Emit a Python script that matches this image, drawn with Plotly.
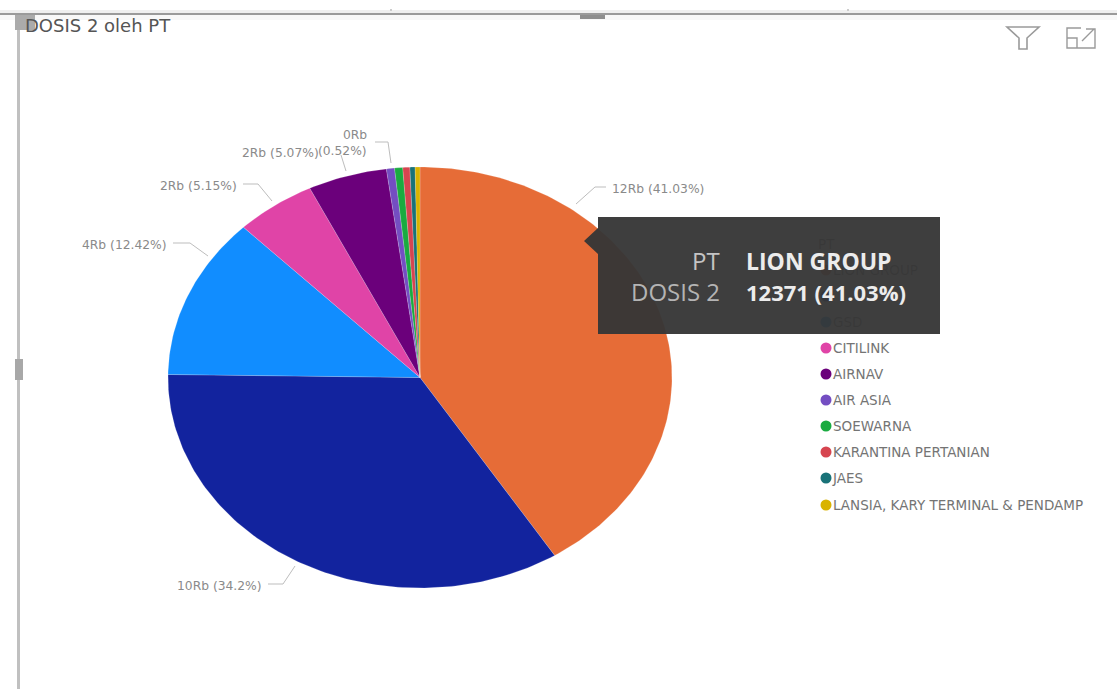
import numpy as np
import plotly.graph_objects as go

# Vaccination dose 2 recipients per company
categories = ["LION GROUP", "", "GSD", "CITILINK", "AIRNAV", "AIR ASIA", "SOEWARNA",
              "KARANTINA PERTANIAN", "JAES", "LANSIA, KARY TERMINAL & PENDAMP"]
values = [12371, 10312, 3745, 1553, 1529, 157, 157, 136, 100, 93]
colors = ["#E66C37", "#12239E", "#118DFF", "#E044A7", "#6B007B", "#744EC2", "#1AAB40",
          "#D64550", "#197278", "#D9B300"]

TOTAL = sum(values)
CX, CY, RX, RY = 420, 377.5, 252, 210.5
FONT = "Open Sans, sans-serif"
WIDE_FONT = "DejaVu Sans, sans-serif"


def short_label(v):
    return f"{round(v / 1000)}Rb"


def pct(v):
    p = f"{100 * v / TOTAL:.2f}".rstrip("0").rstrip(".")
    return f"{p}%"


fig = go.Figure()

# Elliptical pie: wedges clockwise from twelve o'clock
start = 0.0
for value, color, name in zip(values, colors, categories):
    stop = start + value / TOTAL
    theta = 2 * np.pi * np.linspace(start, stop, max(4, int(value / TOTAL * 360)))
    fig.add_trace(go.Scatter(
        x=np.r_[CX, CX + RX * np.sin(theta), CX],
        y=np.r_[CY, CY - RY * np.cos(theta), CY],
        mode="lines", fill="toself", fillcolor=color,
        line=dict(color="rgba(255,255,255,0.35)", width=0.5),
        hoverinfo="skip", showlegend=False, name=name))
    start = stop

# Legend column, drawn as a trace so the tooltip box can sit above it
legend_rows = [270, 296, 322, 348, 374, 400, 426, 452, 478, 505]
legend_font = dict(family=WIDE_FONT, size=13.5, color="#747474")
fig.add_trace(go.Scatter(
    x=[826] * len(categories), y=legend_rows, mode="markers",
    marker=dict(size=11, color=colors), hoverinfo="skip", showlegend=False))
fig.add_trace(go.Scatter(
    x=[833] * len(categories), y=[r + 2 for r in legend_rows], mode="text", text=categories,
    textposition="middle right", textfont=legend_font,
    hoverinfo="skip", showlegend=False))
fig.add_trace(go.Scatter(
    x=[818], y=[246], mode="text", text=["PT"], textposition="middle right",
    textfont=legend_font, hoverinfo="skip", showlegend=False))

# Leader lines from each labelled wedge
leaders = [
    ([576, 595, 606], [204, 187, 187]),
    ([295, 283, 268], [566, 584, 584]),
    ([208, 190, 173], [256, 243, 243]),
    ([272, 258, 243], [201, 184, 184]),
    ([346, 341], [171, 155]),
    ([391, 388, 375], [163, 142, 142]),
]
for lx, ly in leaders:
    fig.add_trace(go.Scatter(x=lx, y=ly, mode="lines", line=dict(color="#bdbdbd", width=1),
                             hoverinfo="skip", showlegend=False))

annotations = []


def note(x, y, text, anchor="left", size=12.3, color="#8a8a8a", weight=None, family=WIDE_FONT):
    label = f"<b>{text}</b>" if weight else text
    annotations.append(dict(x=x, y=y, text=label, xref="x", yref="y", showarrow=False,
                            xanchor=anchor, yanchor="middle", align=anchor,
                            font=dict(family=family, size=size, color=color)))


def wedge_label(i):
    return f"{short_label(values[i])} ({pct(values[i])})"


note(610, 188.5, wedge_label(0))
note(264, 585.5, wedge_label(1), "right")
note(169, 245, wedge_label(2), "right")
note(239, 185.5, wedge_label(3), "right")
note(321, 152.5, wedge_label(4), "right")
note(369, 135, short_label(values[5]), "right")
note(369, 151, f"({pct(values[5])})", "right")

note(23, 25, "DOSIS 2 oleh PT", size=18, color="#555555")

# Tooltip contents
note(722, 260.5, "PT", "right", size=24, color="#c4c4c4", family=FONT)
note(722, 291.5, "DOSIS 2", "right", size=24, color="#b4b4b4", family=FONT)
note(744, 260.5, categories[0], size=23, color="#ececec", weight=True, family=FONT)
note(744, 291.5, f"{values[0]} ({pct(values[0])})", size=22, color="#ececec", weight=True, family=FONT)

frame_grey = "#a8a8a8"
shapes = [
    dict(type="rect", x0=0, x1=1117, y0=10, y1=13, fillcolor="#efefef", line_width=0, layer="below"),
    dict(type="rect", x0=0, x1=1117, y0=13, y1=15, fillcolor="#9a9a9a", line_width=0, layer="below"),
    dict(type="rect", x0=0, x1=1117, y0=15, y1=20, fillcolor="#f8f8f8", line_width=0, layer="below"),
    dict(type="rect", x0=17, x1=20, y0=15, y1=689, fillcolor="#c0c0c0", line_width=0, layer="below"),
    dict(type="rect", x0=15, x1=35, y0=15, y1=30, fillcolor="#ababab", line_width=0, layer="below"),
    dict(type="rect", x0=580, x1=605, y0=15, y1=19, fillcolor="#8e8e8e", line_width=0, layer="below"),
    dict(type="rect", x0=15, x1=23, y0=359, y1=380, fillcolor=frame_grey, line_width=0, layer="below"),
    dict(type="rect", x0=390, x1=392, y0=9, y1=11, fillcolor="#cccccc", line_width=0, layer="below"),
    dict(type="rect", x0=847, x1=849, y0=9, y1=11, fillcolor="#cccccc", line_width=0, layer="below"),
    # Filter icon
    dict(type="path", path="M1007 27 L1039 27 L1027 38 L1027 49 L1019 49 L1019 38 Z",
         line=dict(color="#9a9a9a", width=1.6), layer="below"),
    # Focus-mode icon
    dict(type="path", path="M1081 28 H1067 V48 H1095 V36 M1067 38 H1077 V48 M1082 41 L1094 29 M1086 29 H1095 V37",
         line=dict(color="#9a9a9a", width=1.4), layer="below"),
    # Tooltip box with pointer
    dict(type="path", path="M598 217 H940 V334 H598 V254 L584 241 L598 228 Z",
         fillcolor="#363636", opacity=0.96, line_width=0, layer="above"),
]

fig.update_layout(
    width=1117, height=689, autosize=False,
    margin=dict(l=0, r=0, t=0, b=0),
    paper_bgcolor="white", plot_bgcolor="white",
    xaxis=dict(range=[0, 1117], visible=False, fixedrange=True),
    yaxis=dict(range=[689, 0], visible=False, fixedrange=True),
    shapes=shapes, annotations=annotations, showlegend=False,
)

fig.write_html("out.html", config=dict(displayModeBar=False))
